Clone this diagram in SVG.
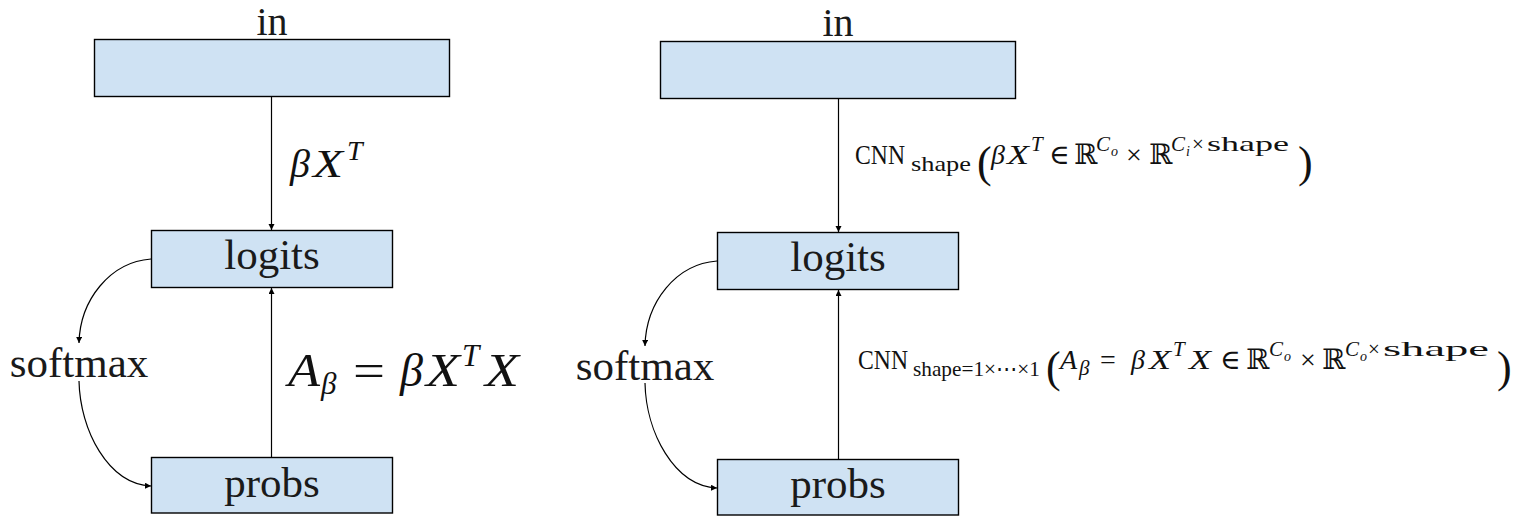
<svg xmlns="http://www.w3.org/2000/svg" width="1522" height="521" viewBox="0 0 1522 521">
<defs>
<marker id="ah" markerUnits="userSpaceOnUse" markerWidth="8" markerHeight="8" refX="6" refY="3" orient="auto">
<path d="M0,0 L6,3 L0,6 Z" fill="#000"/>
</marker>
<style>
.box{fill:#cfe2f3;stroke:#000;stroke-width:1.4}
.lbl{font-family:"Liberation Serif","DejaVu Serif",serif;font-size:43px;fill:#1a1a1a;text-anchor:middle}
.edge{fill:none;stroke:#000;stroke-width:1.2;marker-end:url(#ah)}
.m{font-family:"Liberation Serif","DejaVu Serif",serif;fill:#111}
.n{font-size:28px}
.s{font-size:21px}
.ss{font-size:14px}
.p{font-size:44px}
.i{font-style:italic}
</style>
</defs>
<g id="connectors">
<path class="edge" d="M271.5,96.5 L271.5,230"/>
<path class="edge" d="M271.5,457.5 L271.5,288"/>
<path class="edge" d="M151,259 C110,262 80,300 79,343"/>
<path class="edge" d="M79,381 C80,430 108,484 151,486"/>
<path class="edge" d="M838.5,98.5 L838.5,232"/>
<path class="edge" d="M838.5,459.5 L838.5,290"/>
<path class="edge" d="M717,261 C676,264 646,302 645,346"/>
<path class="edge" d="M645,383 C646,432 674,486 717,488"/>
</g>
<g id="left-in">
<text class="lbl" x="272" y="35" style="font-size:40px">in</text>
<rect class="box" x="94.5" y="39.5" width="355" height="57"/>
</g>
<g id="left-logits">
<rect class="box" x="151.5" y="230.5" width="241" height="57"/>
<text class="lbl" x="272" y="269">logits</text>
</g>
<g id="left-probs">
<rect class="box" x="151.5" y="457.5" width="241" height="55.5"/>
<text class="lbl" x="272" y="497">probs</text>
</g>
<g id="left-softmax">
<text class="lbl" x="79" y="377">softmax</text>
</g>
<g id="left-label-top">
<text class="m i" style="font-size:40px" x="290" y="177">β</text>
<text class="m i" style="font-size:41px" x="313" y="177" textLength="30" lengthAdjust="spacingAndGlyphs">X</text>
<text class="m i" style="font-size:28px" x="347" y="160">T</text>
</g>
<g id="left-label-bottom">
<text class="m i" style="font-size:46px" x="288" y="386" textLength="32" lengthAdjust="spacingAndGlyphs">A</text>
<text class="m i" style="font-size:31px" x="321" y="394">β</text>
<text class="m" style="font-size:46px" x="353" y="386" textLength="32" lengthAdjust="spacingAndGlyphs">=</text>
<text class="m i" style="font-size:46px" x="400" y="386">β</text>
<text class="m i" style="font-size:46px" x="426" y="386" textLength="34" lengthAdjust="spacingAndGlyphs">X</text>
<text class="m i" style="font-size:31px" x="462" y="366">T</text>
<text class="m i" style="font-size:46px" x="485" y="386" textLength="34" lengthAdjust="spacingAndGlyphs">X</text>
</g>
<g id="right-in">
<text class="lbl" x="838" y="36" style="font-size:40px">in</text>
<rect class="box" x="660.5" y="41.5" width="355" height="57"/>
</g>
<g id="right-logits">
<rect class="box" x="717.5" y="232.5" width="241" height="57"/>
<text class="lbl" x="838" y="271">logits</text>
</g>
<g id="right-probs">
<rect class="box" x="717.5" y="459.5" width="241" height="55.5"/>
<text class="lbl" x="838" y="498">probs</text>
</g>
<g id="right-softmax">
<text class="lbl" x="645" y="380">softmax</text>
</g>
<g id="right-label-top">
<text class="m n" x="855" y="164" textLength="50" lengthAdjust="spacingAndGlyphs">CNN</text>
<text class="m s" x="911" y="171" textLength="60" lengthAdjust="spacingAndGlyphs">shape</text>
<text class="m p" x="977" y="177">(</text>
<text class="m n i" x="991" y="164">β</text>
<text class="m n i" x="1007" y="164" textLength="22" lengthAdjust="spacingAndGlyphs">X</text>
<text class="m s i" x="1031" y="151">T</text>
<text class="m n" x="1049" y="164">∈</text>
<text class="m n" x="1074" y="164">ℝ</text>
<text class="m s i" x="1096" y="151">C</text>
<text class="m ss i" x="1111" y="156">o</text>
<text class="m n" x="1126" y="164">×</text>
<text class="m n" x="1149" y="164">ℝ</text>
<text class="m s i" x="1171" y="151">C</text>
<text class="m ss i" x="1186" y="156">i</text>
<text class="m s" x="1192" y="151">×</text>
<text class="m s" x="1207" y="151" textLength="82" lengthAdjust="spacingAndGlyphs">shape</text>
<text class="m p" x="1298" y="177">)</text>
</g>
<g id="right-label-bottom">
<text class="m n" x="858" y="369" textLength="50" lengthAdjust="spacingAndGlyphs">CNN</text>
<text class="m s" x="913" y="376" textLength="127" lengthAdjust="spacingAndGlyphs">shape=1×⋯×1</text>
<text class="m p" x="1046" y="382">(</text>
<text class="m n i" x="1060" y="369">A</text>
<text class="m s i" x="1079" y="375">β</text>
<text class="m n" x="1100" y="369">=</text>
<text class="m n i" x="1131" y="369">β</text>
<text class="m n i" x="1149" y="369" textLength="22" lengthAdjust="spacingAndGlyphs">X</text>
<text class="m s i" x="1173" y="356">T</text>
<text class="m n i" x="1189" y="369" textLength="22" lengthAdjust="spacingAndGlyphs">X</text>
<text class="m n" x="1220" y="369">∈</text>
<text class="m n" x="1246" y="369">ℝ</text>
<text class="m s i" x="1269" y="356">C</text>
<text class="m ss i" x="1284" y="361">o</text>
<text class="m n" x="1300" y="369">×</text>
<text class="m n" x="1322" y="369">ℝ</text>
<text class="m s i" x="1345" y="356">C</text>
<text class="m ss i" x="1360" y="361">o</text>
<text class="m s" x="1368" y="356">×</text>
<text class="m s" x="1383" y="356" textLength="106" lengthAdjust="spacingAndGlyphs">shape</text>
<text class="m p" x="1497" y="382">)</text>
</g>
</svg>
